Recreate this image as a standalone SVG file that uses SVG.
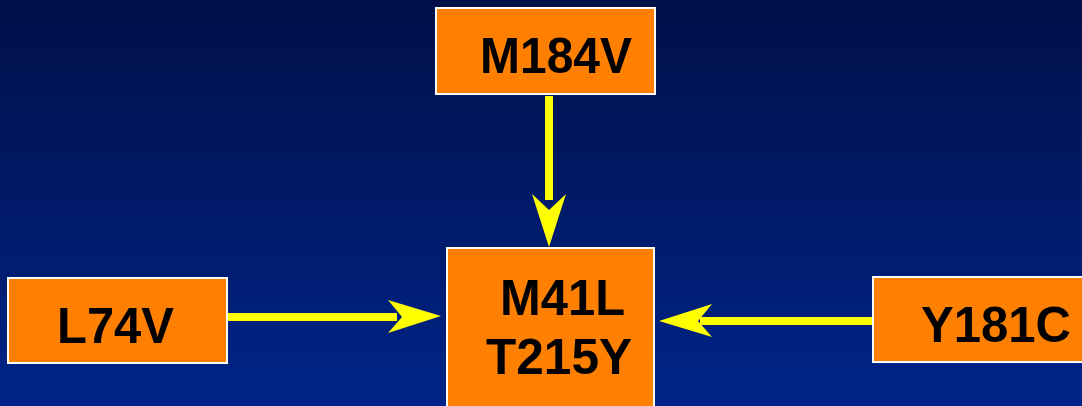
<svg xmlns="http://www.w3.org/2000/svg" width="1082" height="406" viewBox="0 0 1082 406">
<defs>
<linearGradient id="bg" x1="0" y1="0" x2="0" y2="1">
<stop offset="0" stop-color="#000f48"/>
<stop offset="1" stop-color="#002488"/>
</linearGradient>
</defs>
<style>
.box{fill:#ff8000;stroke:#ffffff;stroke-width:2}
.lbl{font-family:"Liberation Sans",Arial,sans-serif;font-weight:bold;font-size:50px;fill:#000000}
.shaft{fill:#ffff00}
.head{fill:#ffff00}
</style>
<rect x="0" y="0" width="1082" height="406" fill="url(#bg)"/>
<g id="connectors">
<rect class="shaft" x="545" y="96" width="8" height="104"/>
<polygon class="head" points="549,247 532,194 549,210 566,194"/>
<rect class="shaft" x="227" y="313" width="170" height="8"/>
<polygon class="head" points="441,316 388,300 402,317 388,333"/>
<rect class="shaft" x="700" y="317" width="172" height="8"/>
<polygon class="head" points="659,321 712,304 698,321 712,337"/>
</g>
<g id="node-M184V">
<rect class="box" x="436" y="8" width="219" height="86"/>
<text class="lbl" x="480" y="73" textLength="152" lengthAdjust="spacingAndGlyphs">M184V</text>
</g>
<g id="node-center">
<rect class="box" x="447" y="248" width="207" height="170"/>
<text class="lbl" x="500" y="315" textLength="125" lengthAdjust="spacingAndGlyphs">M41L</text>
<text class="lbl" x="486" y="374" textLength="146" lengthAdjust="spacingAndGlyphs">T215Y</text>
</g>
<g id="node-L74V">
<rect class="box" x="8" y="278" width="219" height="85"/>
<text class="lbl" x="57" y="343" textLength="117" lengthAdjust="spacingAndGlyphs">L74V</text>
</g>
<g id="node-Y181C">
<rect class="box" x="873" y="277" width="220" height="85"/>
<text class="lbl" x="921" y="342" textLength="150" lengthAdjust="spacingAndGlyphs">Y181C</text>
</g>
</svg>
